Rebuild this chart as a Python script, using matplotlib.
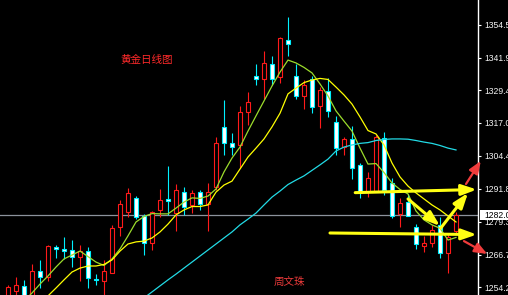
import numpy as np
import matplotlib.pyplot as plt
from matplotlib.patches import Rectangle

plt.rcParams['font.family'] = ['Noto Sans CJK SC', 'DejaVu Sans']

# daily gold candles
opens = [1250.6, 1252.9, 1254.8, 1249.8, 1260.5, 1258.2, 1269.6, 1268.9, 1268.5, 1266.0,
         1268.1, 1257.4, 1256.5, 1259.9, 1277.4, 1283.0, 1288.4, 1281.5, 1271.0, 1283.6,
         1288.0, 1282.6, 1290.6, 1285.7, 1290.5, 1286.0, 1292.4, 1315.5, 1309.4, 1308.6,
         1321.3, 1334.9, 1333.7, 1339.5, 1334.4, 1348.7, 1334.9, 1327.4, 1333.8, 1323.6,
         1329.2, 1317.2, 1307.7, 1310.9, 1301.0, 1290.8, 1291.0, 1311.1, 1294.0, 1282.1,
         1286.7, 1277.4, 1270.2, 1271.3, 1278.0, 1267.5, 1275.9]
highs = [1255.1, 1258.2, 1257.1, 1263.2, 1264.7, 1270.4, 1270.4, 1273.5, 1272.3, 1270.4,
         1269.8, 1259.3, 1264.7, 1278.0, 1287.6, 1292.2, 1289.1, 1282.2, 1283.4, 1291.8,
         1300.6, 1293.7, 1292.6, 1291.4, 1291.4, 1294.2, 1311.6, 1325.8, 1313.2, 1323.5,
         1328.9, 1339.5, 1344.5, 1342.6, 1349.9, 1357.6, 1339.4, 1333.4, 1334.9, 1330.6,
         1334.0, 1319.7, 1311.8, 1315.8, 1301.6, 1298.2, 1312.4, 1313.7, 1296.1, 1288.2,
         1289.8, 1278.4, 1274.0, 1278.0, 1281.2, 1274.9, 1283.1]
lows = [1249.8, 1250.2, 1250.2, 1249.4, 1254.0, 1256.7, 1265.5, 1265.1, 1262.0, 1256.7,
        1254.0, 1255.3, 1251.0, 1259.7, 1273.9, 1281.1, 1280.3, 1266.6, 1268.5, 1281.1,
        1281.9, 1275.8, 1281.7, 1282.6, 1283.8, 1275.9, 1291.4, 1304.8, 1304.8, 1299.8,
        1316.2, 1331.5, 1326.1, 1331.5, 1332.4, 1342.6, 1326.0, 1322.3, 1320.7, 1315.2,
        1319.4, 1304.8, 1304.8, 1295.6, 1288.4, 1288.9, 1290.6, 1289.5, 1280.6, 1277.4,
        1281.5, 1268.9, 1267.9, 1269.8, 1265.6, 1259.8, 1274.9]
closes = [1254.4, 1255.1, 1251.0, 1260.5, 1258.2, 1270.0, 1268.7, 1268.1, 1265.8, 1268.1,
          1258.0, 1257.1, 1260.5, 1276.8, 1286.0, 1290.3, 1281.1, 1271.2, 1283.0, 1287.6,
          1287.2, 1291.4, 1284.9, 1290.2, 1286.0, 1290.8, 1309.4, 1309.5, 1307.8, 1321.1,
          1324.9, 1333.8, 1339.8, 1333.9, 1349.3, 1347.0, 1327.4, 1331.5, 1323.0, 1329.6,
          1321.6, 1307.3, 1310.9, 1299.7, 1290.8, 1295.9, 1311.7, 1291.4, 1281.6, 1286.3,
          1281.6, 1270.7, 1271.1, 1276.1, 1267.2, 1273.6, 1282.0]

# moving averages
ma_fast = [1242.6, 1245.6, 1249.0, 1252.1, 1255.5, 1258.6, 1262.0, 1265.1, 1266.6, 1268.1,
           1266.0, 1263.9, 1262.6, 1265.1, 1268.9, 1273.9, 1279.2, 1281.3, 1282.4, 1282.3,
           1282.3, 1284.5, 1286.8, 1288.4, 1288.2, 1289.1, 1291.8, 1298.3, 1303.6, 1307.8,
           1313.9, 1319.7, 1325.4, 1331.1, 1336.4, 1341.0, 1339.9, 1338.2, 1336.1, 1331.9,
           1327.3, 1321.6, 1317.7, 1313.9, 1307.4, 1301.3, 1301.5, 1298.1, 1294.1, 1291.6,
           1289.9, 1283.4, 1280.0, 1278.1, 1276.8, 1272.3, 1273.3]
ma_mid = [1234.2, 1238.0, 1241.8, 1244.8, 1248.3, 1251.0, 1254.0, 1257.1, 1260.1, 1261.6,
          1262.4, 1262.4, 1263.0, 1264.7, 1268.1, 1270.8, 1271.6, 1271.9, 1273.1, 1275.4,
          1278.4, 1281.9, 1283.8, 1285.1, 1285.1, 1285.7, 1290.6, 1293.3, 1294.8, 1299.4,
          1304.0, 1307.4, 1310.9, 1315.5, 1320.7, 1328.1, 1330.3, 1332.4, 1333.4, 1334.0,
          1333.6, 1330.7, 1327.7, 1324.2, 1319.3, 1314.1, 1312.8, 1308.6, 1301.7, 1296.4,
          1292.9, 1290.3, 1288.0, 1285.7, 1283.8, 1281.5, 1279.2]
ma_slow = [np.nan] * 16 + [
    1247.9, 1250.2, 1252.5, 1254.8, 1257.1, 1259.3, 1261.6, 1263.9, 1266.2, 1268.5,
    1270.8, 1273.1, 1275.4, 1278.1, 1280.3, 1282.6, 1285.7, 1288.7, 1291.0, 1293.5,
    1295.2, 1296.8, 1298.9, 1301.0, 1303.2, 1306.3, 1307.8, 1308.6, 1309.2, 1309.5,
    1310.3, 1310.7, 1310.9, 1310.9, 1310.8, 1310.3, 1309.7, 1309.2, 1308.4, 1307.4,
    1306.7]

ytick_vals = [1354.5, 1341.9, 1329.4, 1317.0, 1304.4, 1291.8, 1279.3, 1266.7, 1254.2]

title = "黄金日线图"
author = "周文珠"

UP = "#ff1a1a"
DOWN = "#00f0ff"

x = np.arange(len(closes))
o = np.array(opens)
h = np.array(highs)
l = np.array(lows)
c = np.array(closes)
up = c >= o

fig = plt.figure(figsize=(5.08, 2.95), dpi=100, facecolor="black")
ax = fig.add_axes([0, 0, 478 / 508, 1])
ax.set_facecolor("black")

# wicks then bodies
ax.vlines(x[up], l[up], h[up], color=UP, lw=0.8, zorder=2)
ax.vlines(x[~up], l[~up], h[~up], color=DOWN, lw=0.8, zorder=2)
ax.bar(x[up], c[up] - o[up], bottom=o[up], width=0.56, facecolor="black",
       edgecolor=UP, lw=0.8, zorder=3)
ax.bar(x[~up], o[~up] - c[~up], bottom=c[~up], width=0.56, facecolor="white",
       edgecolor=DOWN, lw=0.8, zorder=3)

ax.plot(x, ma_fast, color="#9cdc2c", lw=0.9, zorder=4)
ax.plot(x, ma_mid, color="#ffff00", lw=0.9, zorder=4)
ax.plot(x, ma_slow, color="#22dbe6", lw=0.9, zorder=4)

# current price line
ax.axhline(c[-1], color="#8c929c", lw=0.9, zorder=1)

ax.set_xlim(-1, 58.75)
ax.set_ylim(1251.33, 1363.93)

for s in ["left", "top", "bottom"]:
    ax.spines[s].set_visible(False)
ax.spines["right"].set_color("white")
ax.spines["right"].set_linewidth(1.0)
ax.set_xticks([])
ax.yaxis.tick_right()
ax.set_yticks(ytick_vals)
ax.set_yticklabels([f"{v:.1f}" for v in ytick_vals], family="Liberation Sans",
                   fontsize=6.2, color="#f2f2f2")
ax.tick_params(axis="y", length=2.5, width=0.8, color="white", pad=2.2)

# price box on the axis
trans = ax.get_yaxis_transform()
ax.add_patch(Rectangle((479.5 / 478, c[-1] - 1.9), 0.07, 3.8, transform=trans,
                       facecolor="white", edgecolor="none", clip_on=False, zorder=6))
ax.text(484 / 478, c[-1], f"{c[-1]:.1f}", transform=trans, fontsize=6.2,
        family="Liberation Sans", color="black", ha="left", va="center_baseline",
        clip_on=False, zorder=7)

ax.text(0.3065, 0.798, title, transform=ax.transAxes, ha="center", va="center",
        color="#ff2a2a", fontsize=7.6)
ax.text(0.6046, 0.044, author, transform=ax.transAxes, ha="center", va="center",
        color="#e83a3a", fontsize=7.6)

# hand drawn arrows
yellow_arrows = [((43.4, 1290.4), (58.6, 1291.6)),
                 ((40.25, 1275.0), (58.6, 1274.4)),
                 ((50.0, 1288.0), (54.0, 1277.7)),
                 ((54.1, 1276.9), (57.5, 1290.3))]
red_arrows = [((57.25, 1293.7), (59.1, 1302.5)),
              ((57.0, 1271.9), (59.9, 1267.0))]

for start, end in yellow_arrows:
    ax.annotate("", xy=end, xytext=start, annotation_clip=False, zorder=8,
                arrowprops=dict(arrowstyle="-|>,head_length=0.9,head_width=0.32",
                                color="#ffff14", lw=2.2, shrinkA=0, shrinkB=0))
for start, end in red_arrows:
    ax.annotate("", xy=end, xytext=start, annotation_clip=False, zorder=8,
                arrowprops=dict(arrowstyle="-|>,head_length=0.75,head_width=0.3",
                                color="#f03c3c", lw=1.6, shrinkA=0, shrinkB=0))

fig.savefig("out.png", dpi=100, facecolor="black")
